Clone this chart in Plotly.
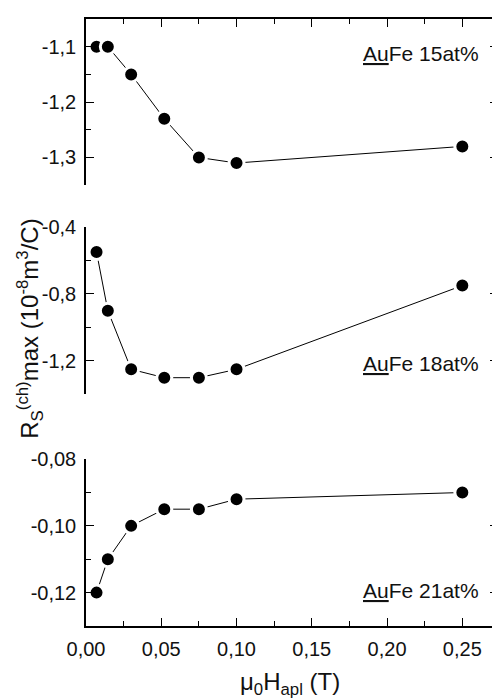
import plotly.graph_objects as go
from plotly.subplots import make_subplots

# Data
field_T = [0.007, 0.0145, 0.03, 0.052, 0.075, 0.1, 0.25]
rs_15 = [-1.10, -1.10, -1.15, -1.23, -1.30, -1.31, -1.28]
rs_18 = [-0.55, -0.90, -1.25, -1.30, -1.30, -1.25, -0.75]
rs_21 = [-0.120, -0.110, -0.100, -0.095, -0.095, -0.092, -0.090]

labels = ["<u>Au</u>Fe 15at%", "<u>Au</u>Fe 18at%", "<u>Au</u>Fe 21at%"]

x_tickvals = [0.00, 0.05, 0.10, 0.15, 0.20, 0.25]
x_ticktext = ["0,00", "0,05", "0,10", "0,15", "0,20", "0,25"]
y1_tickvals = [-1.1, -1.2, -1.3]
y1_ticktext = ["-1,1", "-1,2", "-1,3"]
y2_tickvals = [-0.4, -0.8, -1.2]
y2_ticktext = ["-0,4", "-0,8", "-1,2"]
y3_tickvals = [-0.08, -0.10, -0.12]
y3_ticktext = ["-0,08", "-0,10", "-0,12"]

FONT = "Liberation Sans, Arial, sans-serif"
OFF = 8  # default page margin of the browser
W, H = 500 - OFF, 700 - OFF
ML, MR, MT = 86 - OFF, 0, 16 - OFF
MB = H - (626 - OFF)
plot_h = H - MT - MB
plot_w = W - ML - MR

def ypx(p):  # reference pixel -> paper fraction
    return (H - MB - (p - OFF)) / plot_h

def xpx(p):
    return ((p - OFF) - ML) / plot_w

fig = make_subplots(rows=3, cols=1, shared_xaxes=False, vertical_spacing=0.05)

series = [rs_15, rs_18, rs_21]
for i, ys in enumerate(series):
    fig.add_trace(go.Scatter(
        x=field_T, y=ys, mode="lines+markers",
        line=dict(color="black", width=1),
        marker=dict(color="black", size=15, line=dict(color="white", width=3)),
        showlegend=False, cliponaxis=False), row=i + 1, col=1)

TF = dict(family=FONT, size=20, color="#111")

xcommon = dict(range=[0, 0.2737], showgrid=False, zeroline=False,
               ticks="inside", ticklen=8, tickwidth=1, tickcolor="black",
               linecolor="black", linewidth=1.5,
               minor=dict(ticks="inside", ticklen=5, dtick=0.025, tick0=0, tickcolor="black"),
               tickvals=x_tickvals)

fig.update_layout(
    xaxis=dict(**xcommon, showline=True, side="top", anchor="y", showticklabels=False),
    xaxis2=dict(range=[0, 0.2737], showgrid=False, zeroline=False, showline=False,
                ticks="", showticklabels=False),
    xaxis3=dict(**xcommon, showline=True, ticktext=x_ticktext, tickfont=TF,
                ticklabelstandoff=4),
)

ycommon = dict(showgrid=False, zeroline=False, showline=True, mirror="ticks",
               ticks="inside", ticklen=8, tickwidth=1, tickcolor="black",
               linecolor="black", linewidth=1.5, tickfont=TF, ticklabelstandoff=4)

fig.update_layout(
    yaxis=dict(**ycommon, domain=[ypx(183), ypx(16)], range=[-1.35, -1.05],
               tickvals=y1_tickvals, ticktext=y1_ticktext,
               minor=dict(ticks="inside", ticklen=5, dtick=0.05, tick0=-1.1, tickcolor="black")),
    yaxis2=dict(**ycommon, domain=[ypx(393.3), ypx(225)], range=[-1.4, -0.4],
                tickvals=y2_tickvals, ticktext=y2_ticktext,
                minor=dict(ticks="inside", ticklen=5, dtick=0.2, tick0=-0.4, tickcolor="black")),
    yaxis3=dict(**ycommon, domain=[0, ypx(458.3)], range=[-0.13, -0.08],
                tickvals=y3_tickvals, ticktext=y3_ticktext,
                minor=dict(ticks="inside", ticklen=5, dtick=0.01, tick0=-0.08, tickcolor="black")),
)

ann_y = [51, 362, 590]
for txt, yv in zip(labels, ann_y):
    fig.add_annotation(text=txt, xref="paper", x=xpx(483), xanchor="right",
                       yref="paper", y=ypx(yv), yanchor="middle", showarrow=False,
                       font=dict(family=FONT, size=21, color="#111"))

fig.add_annotation(text="R<sub>S</sub><sup>(ch)</sup>max (10<sup>-8</sup>m<sup>3</sup>/C)",
                   xref="paper", x=xpx(30), xanchor="center",
                   yref="paper", y=ypx(327), yanchor="middle",
                   textangle=-90, showarrow=False,
                   font=dict(family=FONT, size=24, color="#111"))

fig.add_annotation(text="μ<sub>0</sub>H<sub>apl</sub> (T)",
                   xref="paper", x=xpx(291), xanchor="center",
                   yref="paper", y=ypx(684), yanchor="middle",
                   showarrow=False,
                   font=dict(family=FONT, size=24, color="#111"))

fig.update_layout(width=W, height=H, margin=dict(l=ML, r=MR, t=MT, b=MB, pad=0),
                  paper_bgcolor="white", plot_bgcolor="white",
                  font=dict(family=FONT, color="#111"))

fig.write_html("out.html")
